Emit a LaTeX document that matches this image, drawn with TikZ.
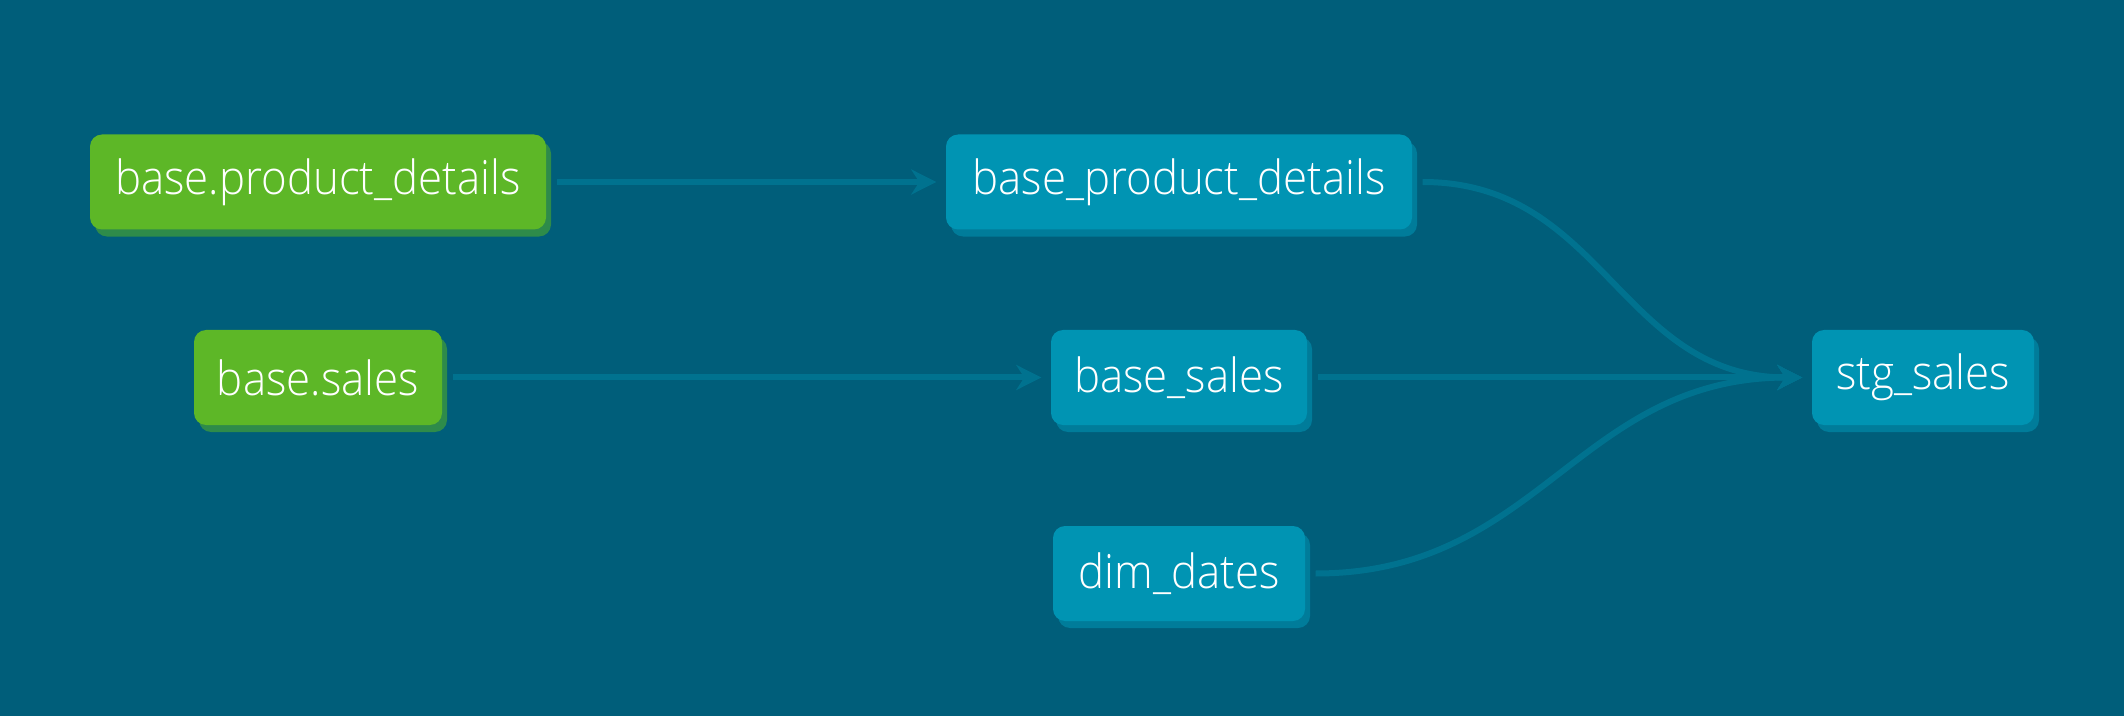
\documentclass[tikz,border=0pt]{standalone}
\usepackage{fontspec}
\setmainfont{Open Sans}[UprightFont=* Light, FakeStretch=0.93]
\usepackage{xcolor}
\usetikzlibrary{arrows.meta, positioning, shadows}

\definecolor{canvas}{HTML}{005E7A}
\definecolor{wire}{HTML}{00728F}
\definecolor{srcgreen}{HTML}{5DB727}
\definecolor{srcshade}{HTML}{2E8B4A}
\definecolor{modelblue}{HTML}{0094B3}
\definecolor{modelshade}{HTML}{007C9A}

\begin{document}
\begin{tikzpicture}[
  model/.style={rounded corners=0.12cm, minimum height=0.95cm, inner sep=0pt,
    text=white, font=\fontsize{13.4}{16}\selectfont},
  source/.style={model, fill=srcgreen,
    general shadow={fill=srcshade, shadow xshift=0.05cm, shadow yshift=-0.07cm}},
  table/.style={model, fill=modelblue,
    general shadow={fill=modelshade, shadow xshift=0.05cm, shadow yshift=-0.07cm}},
  edge/.style={-{Stealth[length=0.25cm, width=0.25cm, inset=0.08cm]}, line width=0.06cm,
    wire, shorten <=0.1cm, shorten >=0.09cm}
]
\fill[canvas] (0,0) rectangle (21.24,-7.16);
\useasboundingbox (0,0) rectangle (21.24,-7.16);

\node[source, minimum width=4.56cm] (srcpd) at (3.18,-1.82) {base.product\_details};
\node[source, minimum width=2.48cm] (srcs) at (3.18,-3.775) {base.sales};
\node[table, minimum width=4.66cm] (pd) at (11.79,-1.82) {base\_product\_details};
\node[table, minimum width=2.56cm] (sales) at (11.79,-3.775) {base\_sales};
\node[table, minimum width=2.52cm] (dates) at (11.79,-5.735) {dim\_dates};
\node[table, minimum width=2.22cm] (stg) at (19.23,-3.775) {stg\_sales};

\draw[edge] (srcpd) -- (pd);
\draw[edge] (srcs) -- (sales);
\draw[edge] (sales) -- (stg);
\draw[edge] (pd.east) to[out=0, in=180, looseness=1.1] (stg.west);
\draw[edge] (dates.east) to[out=0, in=180, looseness=1.1] (stg.west);
\end{tikzpicture}
\end{document}
